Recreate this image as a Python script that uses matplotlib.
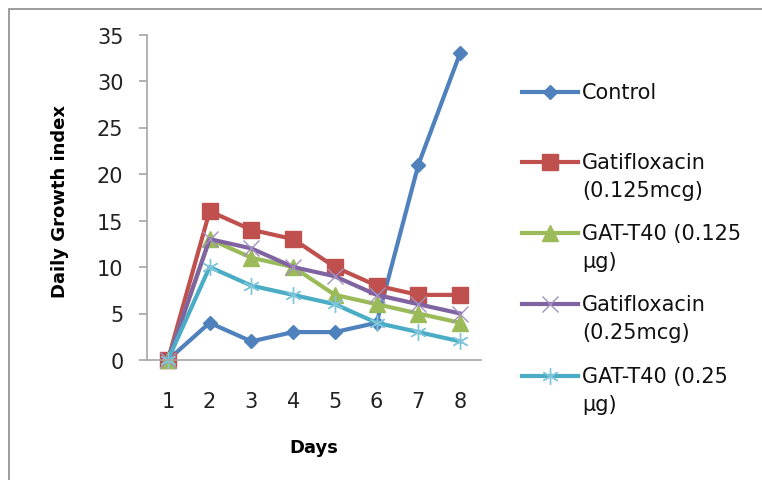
import matplotlib
matplotlib.use('Agg')
import matplotlib.pyplot as plt
from matplotlib.lines import Line2D
from matplotlib.patches import Rectangle

plt.rcParams['font.family'] = ['DejaVu Sans']

# данные
days = [1, 2, 3, 4, 5, 6, 7, 8]
control = [0, 4, 2, 3, 3, 4, 21, 33]
gati_0125 = [0, 16, 14, 13, 10, 8, 7, 7]
gat_t40_0125 = [0, 13, 11, 10, 7, 6, 5, 4]
gati_025 = [0, 13, 12, 10, 9, 7, 6, 5]
gat_t40_025 = [0, 10, 8, 7, 6, 4, 3, 2]

labels = ['Control', 'Gatifloxacin\n(0.125mcg)', 'GAT-T40 (0.125\nµg)',
          'Gatifloxacin\n(0.25mcg)', 'GAT-T40 (0.25\nµg)']
series = [control, gati_0125, gat_t40_0125, gati_025, gat_t40_025]

# стиль линий (цвета Excel)
colors = ['#4F81BD', '#C0504D', '#9BBB59', '#8064A2', '#4BACC6']
edge_colors = ['#4F81BD', '#C0504D', '#9BBB59', '#A48FC0', '#7FC6DA']
markers = ['D', 's', '^', 'x', (6, 2, 0)]
msizes = [7, 12, 11, 11, 12]
medge = [1, 1, 1, 1.0, 1.0]

fig = plt.figure(figsize=(7.62, 4.81), dpi=100)
ax = fig.add_axes([147 / 762, 1 - 361 / 481, 334 / 762, 325.5 / 481])

for vals, c, ec, m, ms, mew in zip(series, colors, edge_colors, markers, msizes, medge):
    ax.plot(days, vals, color=c, lw=3, marker=m, ms=ms, mew=mew,
            mec=ec, mfc=c, clip_on=False)

ax.set_xlim(0.5, 8.5)
ax.set_ylim(0, 35)
ax.set_yticks(range(0, 36, 5))
ax.set_xticks(days)

for s in ['top', 'right']:
    ax.spines[s].set_visible(False)
for s in ['left', 'bottom']:
    ax.spines[s].set_color('#A6A6A6')
    ax.spines[s].set_linewidth(1.2)

ax.tick_params(axis='y', length=6, width=1.2, color='#A6A6A6', pad=11, labelsize=15, labelcolor='#222222')
ax.tick_params(axis='x', length=0, pad=22, labelsize=15, labelcolor='#222222')

fig.text(314 / 762, 1 - 448 / 481, 'Days', fontsize=13, fontweight='bold',
         ha='center', va='center')
fig.text(60 / 762, 1 - 202 / 481, 'Daily Growth index', fontsize=13,
         fontweight='bold', rotation=90, ha='center', va='center')

# легенда справа
leg_y = [93, 163, 234, 305, 377]
for lab, y, c, ec, m, ms, mew in zip(labels, leg_y, colors, edge_colors, markers, msizes, medge):
    yf = 1 - y / 481
    fig.add_artist(Line2D([522 / 762, 578 / 762], [yf, yf], color=c, lw=3,
                          transform=fig.transFigure))
    fig.add_artist(Line2D([550 / 762], [yf], color=c, marker=m, ms=ms, mew=mew,
                          mec=ec, mfc=c, transform=fig.transFigure))
    for i, line in enumerate(lab.split('\n')):
        fig.text(582 / 762, 1 - (y + 28 * i) / 481, line, fontsize=15,
                 ha='left', va='center', color='#111111')

# рамка
fig.add_artist(Rectangle((9 / 762, -0.1), 1.2, 1.1 - 10 / 481, fill=False,
                         edgecolor='#8C8C8C', lw=1.2, transform=fig.transFigure))

fig.savefig('out.png', dpi=100)
